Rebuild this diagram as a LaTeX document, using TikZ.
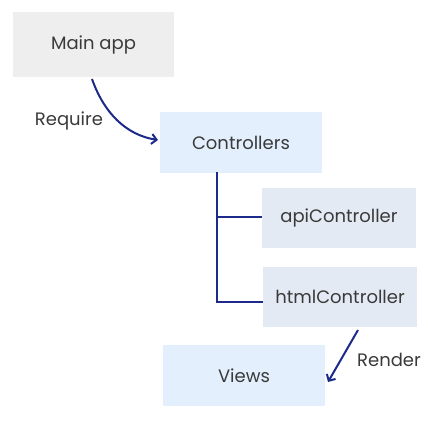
\documentclass[tikz,border=0pt]{standalone}
\usepackage{fontspec}
\setmainfont{Poppins}
\usetikzlibrary{arrows.meta}
\definecolor{graybox}{HTML}{EEEEEE}
\definecolor{bluebox}{HTML}{E3EFFC}
\definecolor{subbox}{HTML}{E4EAF4}
\definecolor{navy}{HTML}{1C2A8A}
\definecolor{txt}{HTML}{3A3A3A}
\begin{document}
\begin{tikzpicture}[x=1pt,y=-1pt,
  box/.style={minimum width=#1, minimum height=62pt, inner sep=0pt, font=\fontsize{18}{20}\selectfont, text=txt},
  conn/.style={draw=navy, line width=2pt},
  arr/.style={conn, -{Straight Barb[length=5pt,width=10pt,line width=2pt]}},
  lbl/.style={font=\fontsize{18}{20}\selectfont, text=txt}]
\useasboundingbox (0,0) rectangle (428,420);
\node[box=161pt, minimum height=65pt, fill=graybox] (main) at (93.5,44.5) {Main app};
\node[box=162pt, minimum height=61pt, fill=bluebox] (ctrl) at (241,142.5) {Controllers};
\node[box=154pt, minimum height=60pt, fill=subbox] (api) at (339,218) {apiController};
\node[box=154pt, minimum height=60pt, fill=subbox] (html) at (340,297) {htmlController};
\node[box=162pt, minimum height=61pt, fill=bluebox] (views) at (244,375.5) {Views};
\coordinate (top) at (217,172);
\coordinate (bj) at (217,302);
\coordinate (aj) at (217,217);
\coordinate (rs) at (92,79);
\coordinate (re) at (158,140);
\coordinate (ds) at (358,330);
\coordinate (de) at (328,382);
\draw[conn] (top) -- (bj) -- (html.west |- bj);
\draw[conn] (aj) -- (api.west |- aj);
\draw[arr] (rs) .. controls (104,113) and (126,135) .. (re);
\node[lbl] (req) at (69,121) {Require};
\draw[arr] (ds) -- (de);
\node[lbl] (ren) at (389,360) {Render};
\end{tikzpicture}
\end{document}
